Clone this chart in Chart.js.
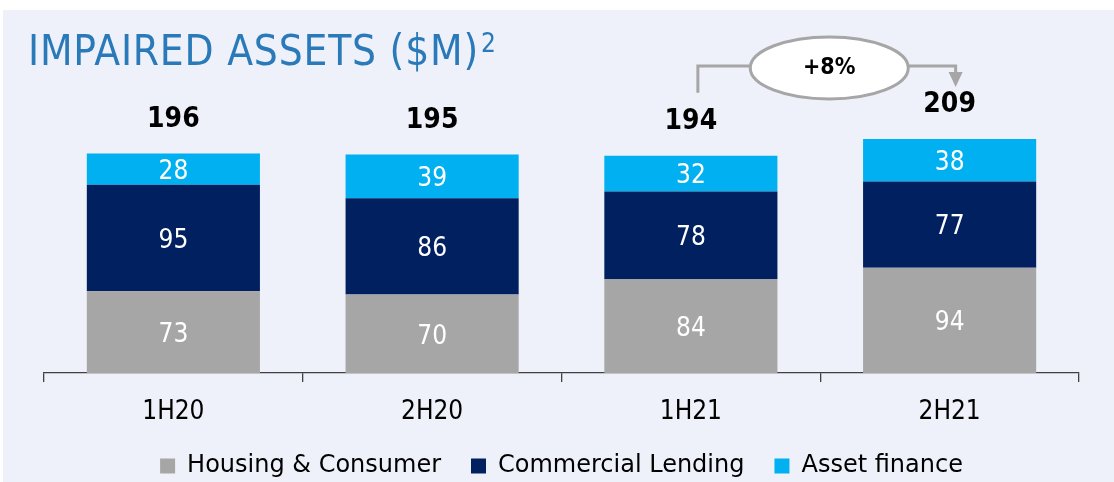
<!DOCTYPE html>
<html>
<head>
<meta charset="utf-8">
<title>Impaired assets</title>
<script src="https://cdn.jsdelivr.net/npm/chart.js@4.4.0/dist/chart.umd.min.js"></script>
<style>
  html, body { margin: 0; padding: 0; background: #fff; }
  #wrap { width: 1114px; height: 482px; }
</style>
</head>
<body>
<div id="wrap"><canvas id="chartImpaired" width="1114" height="482"></canvas></div>
<script>
// data
const periods = ["1H20", "2H20", "1H21", "2H21"];
const housing = [73, 70, 84, 94];
const commercial = [95, 86, 78, 77];
const assetFinance = [28, 39, 32, 38];
const totals = [196, 195, 194, 209];
const changeLabel = "+8%";

const FONT = '"DejaVu Sans Condensed", "DejaVu Sans", sans-serif';
const FONT_WIDE = '"DejaVu Sans", sans-serif';
const GREY = '#a6a6a6';
const NAVY = '#002060';
const CYAN = '#00b0f0';

// background panel + title
const backdrop = {
    id: 'backdrop',
    beforeDraw(chart) {
        const ctx = chart.ctx;
        ctx.save();
        ctx.fillStyle = '#fff';
        ctx.fillRect(0, 0, chart.width, chart.height);
        ctx.fillStyle = '#eef1f9';
        ctx.fillRect(3, 10, chart.width - 3, chart.height - 10);

        ctx.fillStyle = '#2a7ab9';
        ctx.textBaseline = 'alphabetic';
        ctx.textAlign = 'left';
        ctx.font = '42px ' + FONT;
        ctx.letterSpacing = '0.8px';
        const main = 'IMPAIRED ASSETS ($M)';
        ctx.fillText(main, 28, 65);
        const w = ctx.measureText(main).width;
        ctx.letterSpacing = '0px';
        ctx.font = '26px ' + FONT;
        ctx.fillText('2', 28 + w + 2, 52);
        ctx.restore();
    }
};

// values inside segments, totals on top, growth bracket
const barLabels = {
    id: 'barLabels',
    afterDatasetsDraw(chart) {
        const ctx = chart.ctx;
        const y = chart.scales.y;
        ctx.save();
        ctx.textAlign = 'center';
        ctx.textBaseline = 'middle';

        chart.data.datasets.forEach((ds, di) => {
            const meta = chart.getDatasetMeta(di);
            ctx.font = '26px ' + FONT;
            ctx.fillStyle = '#fff';
            meta.data.forEach((bar, i) => {
                const p = bar.getProps(['x', 'y', 'base'], true);
                ctx.fillText(ds.data[i], p.x, (p.y + p.base) / 2 + 3);
            });
        });

        const bars = chart.getDatasetMeta(0).data;
        ctx.font = 'bold 28px ' + FONT;
        ctx.fillStyle = '#000';
        totals.forEach((t, i) => {
            ctx.fillText(t, bars[i].x, y.getPixelForValue(t) - 34);
        });

        // bracket 1H21 -> 2H21
        const x1 = bars[2].x + 7;
        const x2 = bars[3].x + 6;
        const lineY = y.getPixelForValue(Math.max(...totals)) - 73;
        const y1 = y.getPixelForValue(totals[2]) - 63;
        const tipY = y.getPixelForValue(totals[3]) - 52;
        ctx.strokeStyle = GREY;
        ctx.fillStyle = GREY;
        ctx.lineWidth = 3;
        ctx.beginPath();
        ctx.moveTo(x1, y1);
        ctx.lineTo(x1, lineY);
        ctx.lineTo(x2, lineY);
        ctx.lineTo(x2, tipY - 14);
        ctx.stroke();
        ctx.beginPath();
        ctx.moveTo(x2 - 7, tipY - 15);
        ctx.lineTo(x2 + 7, tipY - 15);
        ctx.lineTo(x2, tipY);
        ctx.closePath();
        ctx.fill();

        const cx = (bars[2].x + bars[3].x) / 2 + 9;
        const cy = lineY + 2;
        ctx.beginPath();
        ctx.ellipse(cx, cy, 79, 31, 0, 0, Math.PI * 2);
        ctx.fillStyle = '#fff';
        ctx.fill();
        ctx.stroke();
        ctx.fillStyle = '#000';
        ctx.font = 'bold 23px ' + FONT;
        ctx.fillText(changeLabel, cx, cy);
        ctx.restore();
    }
};

new Chart(document.getElementById('chartImpaired'), {
    type: 'bar',
    data: {
        labels: periods,
        datasets: [
            { label: 'Housing & Consumer', data: housing, backgroundColor: GREY },
            { label: 'Commercial Lending', data: commercial, backgroundColor: NAVY },
            { label: 'Asset finance', data: assetFinance, backgroundColor: CYAN }
        ]
    },
    options: {
        responsive: false,
        animation: false,
        layout: { padding: { left: 44, right: 35, top: 93, bottom: -6 } },
        datasets: {
            bar: { barPercentage: 0.669, categoryPercentage: 1, borderWidth: 0 }
        },
        scales: {
            x: {
                stacked: true,
                afterFit(scale) { scale.height = 51; },
                grid: {
                    display: true,
                    drawOnChartArea: false,
                    tickLength: 9,
                    color: '#404040',
                    lineWidth: 1.3
                },
                border: { display: true, color: '#404040', width: 1.3 },
                ticks: { color: '#000', padding: 15, font: { family: FONT, size: 26 } }
            },
            y: {
                stacked: true,
                display: false,
                min: 0,
                max: 250
            }
        },
        plugins: {
            title: { display: false },
            tooltip: { enabled: false },
            legend: {
                position: 'bottom',
                labels: {
                    boxWidth: 15,
                    boxHeight: 15,
                    padding: 30,
                    color: '#000',
                    font: { family: FONT_WIDE, size: 24 }
                }
            }
        }
    },
    plugins: [backdrop, barLabels]
});
</script>
</body>
</html>
